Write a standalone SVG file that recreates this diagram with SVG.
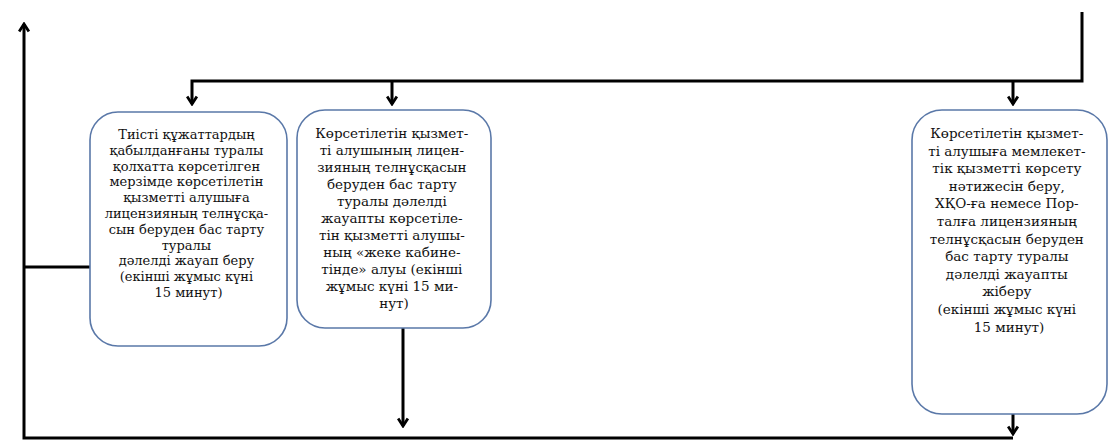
<svg xmlns="http://www.w3.org/2000/svg" width="1113" height="445" viewBox="0 0 1113 445">
<style>
.box{fill:#fff;stroke:#5a78a8;stroke-width:1.6}
.ln{fill:none;stroke:#000;stroke-width:3}
.t{font-family:"DejaVu Serif","Liberation Serif",serif;font-size:13px;fill:#111;text-anchor:middle}
.t2{font-size:13.5px}
</style>
<defs>
<marker id="ah" viewBox="0 0 12 12" refX="10" refY="6" markerWidth="13" markerHeight="13" markerUnits="userSpaceOnUse" orient="auto">
<polyline points="3,1.5 10,6 3,10.5" fill="none" stroke="#000" stroke-width="2.6"/>
</marker>
</defs>
<rect width="1113" height="445" fill="#fff"/>
<g id="connectors">
<polyline class="ln" points="1082,12 1082,81 192,81 192,104" marker-end="url(#ah)"/>
<line class="ln" x1="392" y1="81" x2="392" y2="104" marker-end="url(#ah)"/>
<line class="ln" x1="1013" y1="81" x2="1013" y2="104" marker-end="url(#ah)"/>
<line class="ln" x1="403" y1="328" x2="403" y2="426" marker-end="url(#ah)"/>
<line class="ln" x1="1013" y1="414" x2="1013" y2="434" marker-end="url(#ah)"/>
<polyline class="ln" points="1013,438 24,438 24,24" marker-end="url(#ah)"/>
<line class="ln" x1="24" y1="267" x2="90" y2="267"/>
</g>
<g id="node1">
<rect class="box" x="90" y="112" width="197" height="234" rx="28"/>
<text class="t">
<tspan x="188.5" y="139">Тиісті құжаттардың</tspan>
<tspan x="188.5" dy="15.8">қабылданғаны туралы</tspan>
<tspan x="188.5" dy="15.8">қолхатта көрсетілген</tspan>
<tspan x="188.5" dy="15.8">мерзімде көрсетілетін</tspan>
<tspan x="188.5" dy="15.8">қызметті алушыға</tspan>
<tspan x="188.5" dy="15.8">лицензияның телнұсқа-</tspan>
<tspan x="188.5" dy="15.8">сын беруден бас тарту</tspan>
<tspan x="188.5" dy="15.8">туралы</tspan>
<tspan x="188.5" dy="15.8">дәлелді жауап беру</tspan>
<tspan x="188.5" dy="15.8">(екінші жұмыс күні</tspan>
<tspan x="188.5" dy="15.8">15 минут)</tspan>
</text>
</g>
<g id="node2">
<rect class="box" x="297" y="110" width="194" height="218" rx="28"/>
<text class="t t2">
<tspan x="394" y="138">Көрсетілетін қызмет-</tspan>
<tspan x="394" dy="17">ті алушының лицен-</tspan>
<tspan x="394" dy="17">зияның телнұсқасын</tspan>
<tspan x="394" dy="17">беруден бас тарту</tspan>
<tspan x="394" dy="17">туралы дәлелді</tspan>
<tspan x="394" dy="17">жауапты көрсетіле-</tspan>
<tspan x="394" dy="17">тін қызметті алушы-</tspan>
<tspan x="394" dy="17">ның «жеке кабине-</tspan>
<tspan x="394" dy="17">тінде» алуы (екінші</tspan>
<tspan x="394" dy="17">жұмыс күні 15 ми-</tspan>
<tspan x="394" dy="17">нут)</tspan>
</text>
</g>
<g id="node3">
<rect class="box" x="912" y="110" width="195" height="304" rx="30"/>
<text class="t t2">
<tspan x="1009" y="138">Көрсетілетін қызмет-</tspan>
<tspan x="1009" dy="17.6">ті алушыға мемлекет-</tspan>
<tspan x="1009" dy="17.6">тік қызметті көрсету</tspan>
<tspan x="1009" dy="17.6">нәтижесін беру,</tspan>
<tspan x="1009" dy="17.6">ХҚО-ға немесе Пор-</tspan>
<tspan x="1009" dy="17.6">талға лицензияның</tspan>
<tspan x="1009" dy="17.6">телнұсқасын беруден</tspan>
<tspan x="1009" dy="17.6">бас тарту туралы</tspan>
<tspan x="1009" dy="17.6">дәлелді жауапты</tspan>
<tspan x="1009" dy="17.6">жіберу</tspan>
<tspan x="1009" dy="17.6">(екінші жұмыс күні</tspan>
<tspan x="1009" dy="17.6">15 минут)</tspan>
</text>
</g>
</svg>
